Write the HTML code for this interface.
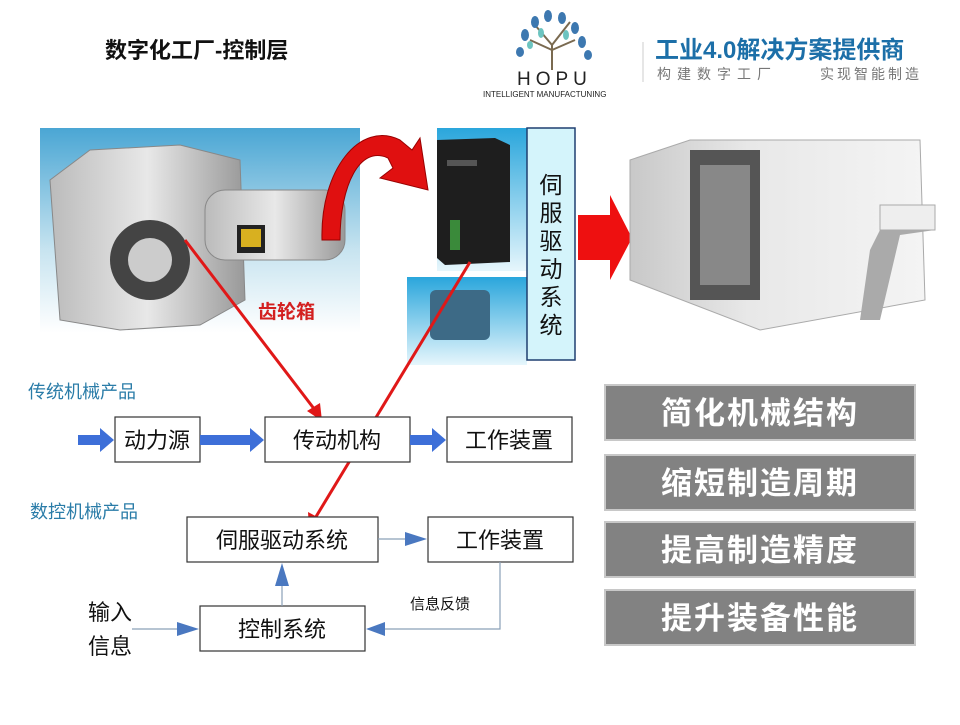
<!DOCTYPE html>
<html><head><meta charset="utf-8"><style>
body{margin:0;background:#fff;}
svg text{font-family:"Liberation Sans","Noto Sans CJK SC",sans-serif;}
</style></head><body>
<svg width="960" height="720" viewBox="0 0 960 720" xmlns="http://www.w3.org/2000/svg">
<defs>
<linearGradient id="bl" x1="0" y1="0" x2="0" y2="1"><stop offset="0" stop-color="#4aa6d4"/><stop offset="0.6" stop-color="#c8e4f0"/><stop offset="1" stop-color="#fff"/></linearGradient>
<linearGradient id="bl2" x1="0" y1="0" x2="0" y2="1"><stop offset="0" stop-color="#2aa6dc"/><stop offset="1" stop-color="#e6f6fc"/></linearGradient>
<linearGradient id="mt" x1="0" y1="0" x2="1" y2="0"><stop offset="0" stop-color="#bbb"/><stop offset="0.5" stop-color="#e8e8e8"/><stop offset="1" stop-color="#999"/></linearGradient>
<linearGradient id="mc" x1="0" y1="0" x2="1" y2="0"><stop offset="0" stop-color="#c8c8c8"/><stop offset="0.4" stop-color="#e8e8e8"/><stop offset="1" stop-color="#f4f4f4"/></linearGradient>
</defs>
<text x="105" y="58" font-size="22" font-weight="bold" fill="#111">数字化工厂-控制层</text>
<g stroke="#7a6a50" stroke-width="2" fill="none"><path d="M552 70 L552 45 L535 25 M552 45 L570 22 M552 50 L530 40 M552 50 L575 40"/></g>
<g fill="#3d78b0"><ellipse cx="535" cy="22" rx="4" ry="6"/><ellipse cx="548" cy="16" rx="4" ry="6"/><ellipse cx="562" cy="18" rx="4" ry="6"/><ellipse cx="575" cy="28" rx="4" ry="6"/><ellipse cx="525" cy="35" rx="4" ry="6"/><ellipse cx="582" cy="42" rx="4" ry="6"/><ellipse cx="520" cy="52" rx="4" ry="5"/><ellipse cx="588" cy="55" rx="4" ry="5"/></g>
<g fill="#6cc4c0"><ellipse cx="541" cy="33" rx="3" ry="5"/><ellipse cx="566" cy="35" rx="3" ry="5"/><ellipse cx="530" cy="45" rx="3" ry="4"/></g>
<text x="517" y="85" font-size="19" font-family="Liberation Serif,serif" letter-spacing="5" fill="#222">HOPU</text>
<text x="483" y="97" font-size="8" font-family="Liberation Serif,serif" fill="#222">INTELLIGENT MANUFACTUNING</text>
<line x1="643" y1="42" x2="643" y2="82" stroke="#ccc"/>
<text x="655" y="58" font-size="24" font-weight="bold" fill="#1c6fa8">工业4.0解决方案提供商</text>
<text x="657" y="79" font-size="14" fill="#777" letter-spacing="6">构建数字工厂</text>
<text x="820" y="79" font-size="14" fill="#777" letter-spacing="3">实现智能制造</text>
<rect x="40" y="128" width="320" height="205" fill="url(#bl)"/>
<path d="M50 180 L90 150 L180 145 L240 160 L245 300 L200 325 L120 330 L60 320 Z" fill="url(#mt)" stroke="#888"/>
<circle cx="150" cy="260" r="40" fill="#444"/><circle cx="150" cy="260" r="22" fill="#ccc"/>
<rect x="205" y="190" width="140" height="70" rx="20" fill="url(#mt)" stroke="#888"/>
<rect x="237" y="225" width="28" height="28" fill="#222"/><rect x="241" y="229" width="20" height="18" fill="#d8b020"/>
<text x="258" y="318" font-size="19" font-weight="bold" fill="#d32020">齿轮箱</text>
<rect x="407" y="128" width="120" height="143" fill="url(#bl2)"/>
<rect x="407" y="128" width="30" height="143" fill="#fff"/>
<path d="M437 140 L495 138 L510 145 L510 262 L445 265 L437 258 Z" fill="#1e1e1e"/>
<rect x="447" y="160" width="30" height="6" fill="#555"/>
<rect x="450" y="220" width="10" height="30" fill="#3a8a3a"/>
<rect x="407" y="277" width="120" height="88" fill="url(#bl2)"/>
<rect x="430" y="290" width="60" height="50" rx="6" fill="#3d6a86"/>
<rect x="527" y="128" width="48" height="232" fill="#d4f4fb" stroke="#1f3f70" stroke-width="1.5"/>
<g font-size="23" fill="#111" text-anchor="middle"><text x="551" y="193">伺</text><text x="551" y="221">服</text><text x="551" y="249">驱</text><text x="551" y="277">动</text><text x="551" y="305">系</text><text x="551" y="333">统</text></g>
<path d="M322 240 C320 170 360 120 400 140 L412 150 L420 138 L428 190 L380 178 L393 168 L388 158 C360 145 340 185 340 240 Z" fill="#e01010" stroke="#900" stroke-width="1"/>
<path d="M578 215 L610 215 L610 195 L632 238 L610 280 L610 260 L578 260 Z" fill="#ee1010"/>
<path d="M630 160 L690 140 L920 140 L925 300 L760 330 L630 280 Z" fill="url(#mc)" stroke="#aaa"/>
<rect x="690" y="150" width="70" height="150" fill="#555"/>
<rect x="700" y="165" width="50" height="120" fill="#888"/>
<path d="M870 250 L885 220 L935 215 L935 230 L900 235 L880 320 L860 320 Z" fill="#aaa"/>
<rect x="880" y="205" width="55" height="25" fill="#eee" stroke="#aaa"/>
<g stroke="#e01818" stroke-width="3" fill="#e01818"><line x1="185" y1="240" x2="315" y2="410"/><line x1="470" y1="262" x2="314" y2="520"/></g>
<path d="M322 421 L307 411 L320 403 Z" fill="#e01818"/>
<path d="M309 529 L308 512 L321 519 Z" fill="#e01818"/>
<text x="28" y="398" font-size="18" fill="#2a7ca8">传统机械产品</text>
<text x="30" y="518" font-size="18" fill="#2a7ca8">数控机械产品</text>
<g fill="#fff" stroke="#333" stroke-width="1.2"><rect x="115" y="417" width="85" height="45"/><rect x="265" y="417" width="145" height="45"/><rect x="447" y="417" width="125" height="45"/><rect x="187" y="517" width="191" height="45"/><rect x="428" y="517" width="145" height="45"/><rect x="200" y="606" width="165" height="45"/></g>
<g fill="#3d6fd8"><path d="M78 435 L100 435 L100 428 L114 440 L100 452 L100 445 L78 445 Z"/><path d="M200 435 L250 435 L250 428 L264 440 L250 452 L250 445 L200 445 Z"/><path d="M410 435 L432 435 L432 428 L446 440 L432 452 L432 445 L410 445 Z"/></g>
<g font-size="22" fill="#111" text-anchor="middle"><text x="157" y="448">动力源</text><text x="337" y="448">传动机构</text><text x="509" y="448">工作装置</text><text x="282" y="548">伺服驱动系统</text><text x="500" y="548">工作装置</text><text x="282" y="637">控制系统</text></g>
<g stroke="#8aa0b8" stroke-width="1.2" fill="none"><line x1="378" y1="539" x2="405" y2="539"/><line x1="282" y1="606" x2="282" y2="585"/><line x1="132" y1="629" x2="178" y2="629"/><polyline points="500,562 500,629 385,629"/></g>
<g fill="#4a78c0"><path d="M405 532 L427 539 L405 546 Z"/><path d="M275 586 L282 563 L289 586 Z"/><path d="M177 622 L199 629 L177 636 Z"/><path d="M385 622 L366 629 L385 636 Z"/></g>
<text x="88" y="620" font-size="22" fill="#111">输入</text>
<text x="88" y="654" font-size="22" fill="#111">信息</text>
<text x="410" y="609" font-size="15" fill="#111">信息反馈</text>
<g fill="#828282" stroke="#c8c8c8" stroke-width="2"><rect x="605" y="385" width="310" height="55"/><rect x="605" y="455" width="310" height="55"/><rect x="605" y="522" width="310" height="55"/><rect x="605" y="590" width="310" height="55"/></g>
<g font-size="31" fill="#fff" text-anchor="middle" letter-spacing="2" font-weight="bold"><text x="760" y="424">简化机械结构</text><text x="760" y="494">缩短制造周期</text><text x="760" y="561">提高制造精度</text><text x="760" y="629">提升装备性能</text></g>
</svg>
</body></html>
